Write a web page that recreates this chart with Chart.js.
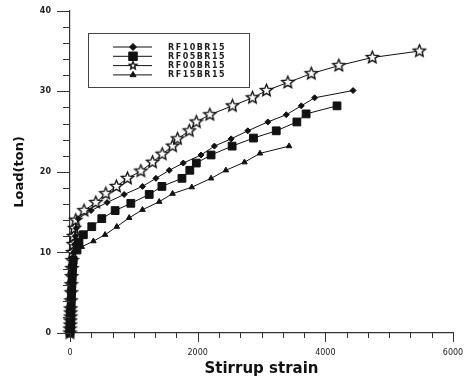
<!DOCTYPE html>
<html>
<head>
<meta charset="utf-8">
<script src="https://cdn.jsdelivr.net/npm/chart.js@4.4.1/dist/chart.umd.min.js"></script>
<style>body{margin:0;background:#fff;}</style>
</head>
<body>
<canvas id="myChart" width="471" height="378"></canvas>
<script>
var seriesNames = ['RF10BR15', 'RF05BR15', 'RF00BR15', 'RF15BR15'];

// RF10BR15 (diamonds)
var rf10Load   = [0, 0.5, 1, 1.5, 2, 2.5, 3, 4, 5, 6, 7, 8, 9, 10, 11, 12, 13, 14.2, 15.2, 16.2, 17.2, 18.2, 19.2, 20.2, 21.1, 22.1, 23.2, 24.1, 25.1, 26.2, 27.1, 28.2, 29.2, 30.1];
var rf10Strain = [0, 0, 5, 5, 10, 10, 15, 20, 25, 30, 35, 45, 50, 60, 70, 80, 95, 126, 330, 581, 848, 1136, 1346, 1555, 1775, 2053, 2262, 2524, 2785, 3099, 3388, 3623, 3832, 4434];

// RF05BR15 (squares)
var rf05Load   = [0, 0.5, 1, 1.5, 2, 2.5, 3, 4, 5, 6, 7, 8, 9, 10.3, 11.3, 12.2, 13.2, 14.2, 15.2, 16.1, 17.2, 18.2, 19.2, 20.2, 21.1, 22.1, 23.2, 24.2, 25.1, 26.2, 27.2, 28.2];
var rf05Strain = [0, 0, 5, 5, 10, 10, 15, 20, 25, 30, 35, 40, 50, 110, 141, 209, 341, 498, 707, 953, 1241, 1440, 1754, 1877, 1979, 2210, 2540, 2874, 3231, 3554, 3699, 4183];

// RF00BR15 (stars)
var rf00Load   = [0, 0.5, 1, 1.5, 2, 2.5, 3, 4, 5, 6, 7, 8, 9, 10, 11, 12, 13, 14, 15.2, 16.2, 17.3, 18.2, 19.2, 20.1, 21.2, 22.2, 23.2, 24.1, 25.1, 26.2, 27.1, 28.2, 29.2, 30.1, 31.1, 32.2, 33.2, 34.2, 35.0];
var rf00Strain = [0, 0, 5, 5, 10, 10, 10, 15, 20, 20, 25, 30, 35, 40, 50, 55, 70, 90, 220, 404, 561, 727, 900, 1110, 1293, 1445, 1607, 1685, 1869, 1979, 2191, 2544, 2859, 3078, 3413, 3780, 4212, 4735, 5474];

// RF15BR15 (triangles)
var rf15Load   = [0, 0.5, 1, 1.5, 2, 2.5, 3, 4, 5, 6, 7, 8, 9, 10, 10.7, 11.4, 12.2, 13.2, 14.3, 15.3, 16.3, 17.3, 18.1, 19.2, 20.2, 21.2, 22.3, 23.2];
var rf15Strain = [0, 0, 5, 5, 10, 10, 15, 15, 20, 25, 30, 35, 40, 50, 184, 366, 550, 733, 927, 1136, 1398, 1607, 1908, 2210, 2442, 2733, 2976, 3432];

function pairs(xs, ys) {
    var out = [];
    for (var i = 0; i < xs.length; i++) out.push({x: xs[i], y: ys[i]});
    return out;
}

function makeStar(r) {
    var c = document.createElement('canvas');
    var s = Math.ceil(r * 2 + 4);
    c.width = s; c.height = s;
    var g = c.getContext('2d');
    g.beginPath();
    for (var i = 0; i < 10; i++) {
        var a = -Math.PI / 2 + i * Math.PI / 5;
        var rr = (i % 2) ? r * 0.45 : r;
        g.lineTo(s / 2 + rr * Math.cos(a), s / 2 + rr * Math.sin(a));
    }
    g.closePath();
    g.fillStyle = '#fff';
    g.fill();
    g.strokeStyle = '#111';
    g.lineWidth = 1.4;
    g.stroke();
    return c;
}
var starImg = makeStar(6.3);
var starSmall = makeStar(4);

function ds(label, xs, ys, style, radius) {
    return {
        label: label,
        data: pairs(xs, ys),
        showLine: true,
        borderColor: '#111',
        borderWidth: 1,
        backgroundColor: '#111',
        pointBackgroundColor: '#111',
        pointBorderColor: '#111',
        pointBorderWidth: 1,
        pointStyle: style,
        pointRadius: radius,
        clip: false
    };
}

var legendStyles = [
    {pointStyle: 'rectRot', radius: 3.5},
    {pointStyle: 'rect', radius: 6},
    {pointStyle: starSmall, radius: 4},
    {pointStyle: 'triangle', radius: 3.5}
];

var extras = {
    id: 'extras',
    afterDraw: function(chart) {
        var ctx = chart.ctx, xs = chart.scales.x, ys = chart.scales.y, a = chart.chartArea;
        ctx.save();
        ctx.strokeStyle = '#333';
        ctx.lineWidth = 1;
        // ticks, long at labelled values, short between
        for (var k = 0; k <= 18; k++) {
            var px = Math.round(xs.getPixelForValue(k * 1000 / 3)) + 0.5;
            var len = (k % 6 === 0) ? 9 : 5;
            ctx.beginPath(); ctx.moveTo(px, a.bottom); ctx.lineTo(px, a.bottom + len); ctx.stroke();
        }
        for (var w = 0; w <= 40; w += 2) {
            var py = Math.round(ys.getPixelForValue(w)) + 0.5;
            var l2 = (w % 10 === 0) ? 13 : 7;
            ctx.beginPath(); ctx.moveTo(a.left, py); ctx.lineTo(a.left - l2, py); ctx.stroke();
        }
        // legend box
        ctx.strokeStyle = '#444';
        ctx.strokeRect(88.5, 33.5, 161, 54);
        ctx.font = 'bold 8px "DejaVu Sans"';
        ctx.letterSpacing = '1.5px';
        ctx.textBaseline = 'middle';
        for (var i = 0; i < seriesNames.length; i++) {
            var y = 47 + i * 9.3;
            ctx.strokeStyle = '#111';
            ctx.beginPath(); ctx.moveTo(113, y); ctx.lineTo(152, y); ctx.stroke();
            ctx.fillStyle = '#111';
            Chart.helpers.drawPoint(ctx, {pointStyle: legendStyles[i].pointStyle, radius: legendStyles[i].radius, rotation: 0, borderWidth: 1}, 133, y);
            ctx.fillStyle = '#222';
            ctx.fillText(seriesNames[i], 168, y + 0.5);
        }
        ctx.restore();
    }
};

var ctx = document.getElementById('myChart').getContext('2d');
var myChart = new Chart(ctx, {
    type: 'scatter',
    data: {
        datasets: [
            ds(seriesNames[3], rf15Strain, rf15Load, 'triangle', 3.2),
            ds(seriesNames[1], rf05Strain, rf05Load, 'rect', 5.5),
            ds(seriesNames[0], rf10Strain, rf10Load, 'rectRot', 3),
            ds(seriesNames[2], rf00Strain, rf00Load, starImg, 6.3)
        ]
    },
    options: {
        responsive: false,
        devicePixelRatio: 1,
        animation: false,
        layout: {padding: {top: 10, right: 18, left: 0, bottom: 0}},
        plugins: {legend: {display: false}, tooltip: {enabled: false}},
        scales: {
            x: {
                type: 'linear', min: 0, max: 6000,
                ticks: {stepSize: 2000, color: '#222', font: {family: 'DejaVu Sans', size: 8}, padding: 6, maxRotation: 0,
                        callback: function(v) { return String(v); }},
                grid: {display: true, drawOnChartArea: false, drawTicks: true, tickLength: 9, tickColor: 'rgba(0,0,0,0)'},
                border: {display: true, color: '#333', width: 1.2},
                title: {display: true, text: 'Stirrup strain', color: '#111', font: {family: 'DejaVu Sans', size: 15, weight: 'bold'}, padding: {top: 2, bottom: 0}},
                afterFit: function(s) { s.height = 45; }
            },
            y: {
                type: 'linear', min: 0, max: 40,
                ticks: {stepSize: 10, color: '#222', font: {family: 'DejaVu Sans', size: 8, weight: 'bold'}, padding: 6,
                        callback: function(v) { return String(v); }},
                grid: {display: true, drawOnChartArea: false, drawTicks: true, tickLength: 13, tickColor: 'rgba(0,0,0,0)'},
                border: {display: true, color: '#333', width: 1.2},
                title: {display: true, text: 'Load(ton)', color: '#111', font: {family: 'DejaVu Sans', size: 13, weight: 'bold'}, padding: {top: 12, bottom: 0}},
                afterFit: function(s) { s.width = 70; }
            }
        }
    },
    plugins: [extras]
});
</script>
</body>
</html>
